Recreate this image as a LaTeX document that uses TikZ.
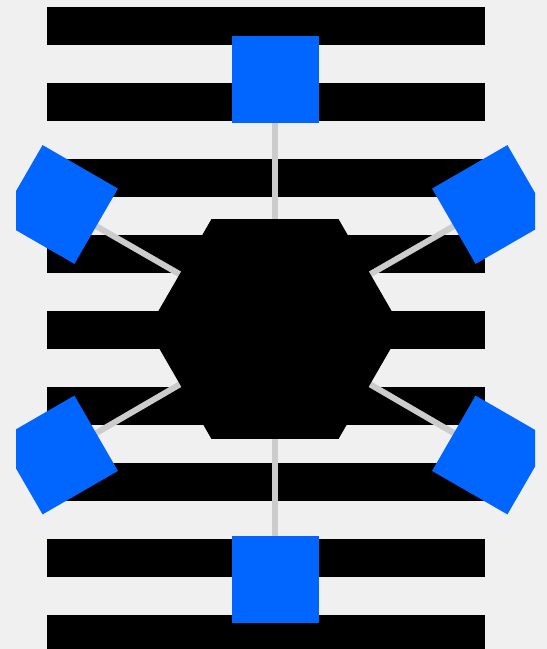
\documentclass[tikz,border=0pt]{standalone}
\usetikzlibrary{shapes.geometric,positioning}
\definecolor{paper}{HTML}{F0F0F0}
\definecolor{tileblue}{HTML}{0066FF}
\definecolor{linkgray}{HTML}{CCCCCC}
\pgfdeclarelayer{stripes}
\pgfdeclarelayer{links}
\pgfsetlayers{stripes,links,main}
\tikzset{
  hub/.style={regular polygon, regular polygon sides=6, fill=black,
    minimum size=254pt, inner sep=0pt, outer sep=0pt},
  tile/.style={fill=tileblue, minimum size=87pt, inner sep=0pt, outer sep=0pt},
  link/.style={draw=linkgray, line width=6pt},
}

\begin{document}
\begin{tikzpicture}[x=1pt,y=1pt]
  \useasboundingbox (0,0) rectangle (547,649);

  % Background and stripes
  \begin{pgfonlayer}{stripes}
    \fill[paper] (0,0) rectangle (547,649);
    \foreach \k in {0,...,8}
      \fill[black] (46.5,604-76*\k) rectangle (484.5,642-76*\k);
  \end{pgfonlayer}

  % Define the hub
  \node[hub] (hub) at (275,320) {};

  % Define the tiles
  \begin{scope}
    \clip (16,0) rectangle (535,649);
    \node[tile] (n) at (275,569.5) {};
    \node[tile, rotate=30] (ne) at (491.5,444.5) {};
    \node[tile, rotate=-30] (se) at (491.5,194) {};
    \node[tile] (s) at (275,69) {};
    \node[tile, rotate=30] (sw) at (58.5,194) {};
    \node[tile, rotate=-30] (nw) at (58.5,444.5) {};
  \end{scope}

  % Draw the links
  \begin{pgfonlayer}{links}
    \foreach \t in {n,ne,se,s,sw,nw}
      \draw[link] (hub.center) -- (\t.center);
  \end{pgfonlayer}
\end{tikzpicture}
\end{document}
